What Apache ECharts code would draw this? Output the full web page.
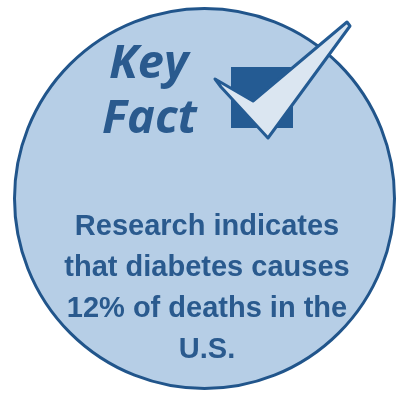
<!DOCTYPE html>
<html>
<head>
<meta charset="utf-8">
<script src="https://cdn.jsdelivr.net/npm/echarts@6/dist/echarts.min.js"></script>
<style>
html,body{margin:0;padding:0;background:#fff;}
#chart{width:396px;height:396px;}
</style>
</head>
<body>
<div id="chart"></div>
<script>
const headingLines = ['Key', 'Fact'];
const bodyLines = ['Research indicates', 'that diabetes causes', '12% of deaths in the', 'U.S.'];
const circleValues = [1];

const chart = echarts.init(document.getElementById('chart'), null, {renderer: 'canvas'});

const textColor = '#2a5a8e';
const graphics = [];

// heading (y = vertical middle of the em box)
const headingX = [109, 102];
const headingY = [65, 120];
headingLines.forEach((t, i) => {
  graphics.push({
    type: 'text', z: 10,
    style: {
      text: t, x: headingX[i], y: headingY[i],
      fill: textColor,
      font: 'italic 700 47px "Open Sans"',
      verticalAlign: 'middle'
    }
  });
});

// body
const bodyY = [227, 268, 309, 350];
bodyLines.forEach((t, i) => {
  graphics.push({
    type: 'text', z: 10,
    style: {
      text: t, x: 207, y: bodyY[i],
      fill: textColor,
      font: 'bold 29px "Liberation Sans"',
      align: 'center',
      verticalAlign: 'middle'
    }
  });
});

// check box square
graphics.push({
  type: 'rect', z: 10,
  shape: {x: 231, y: 67, width: 62, height: 61},
  style: {fill: '#245b93'}
});
// check mark
graphics.push({
  type: 'polygon', z: 11,
  shape: {points: [[215, 79], [253, 101], [347, 22], [350, 26], [268, 138], [221, 87]]},
  style: {fill: '#dbe6f1', stroke: '#245b93', lineWidth: 3, lineJoin: 'round'}
});

chart.setOption({
  animation: false,
  backgroundColor: '#ffffff',
  series: [{
    type: 'pie',
    center: [204.5, 198.5],
    radius: [0, 190],
    silent: true,
    label: {show: false},
    labelLine: {show: false},
    itemStyle: {color: '#b6cee6', borderColor: '#21558b', borderWidth: 3},
    emphasis: {disabled: true},
    data: circleValues.map(v => ({value: v}))
  }],
  graphic: graphics
});
</script>
</body>
</html>
